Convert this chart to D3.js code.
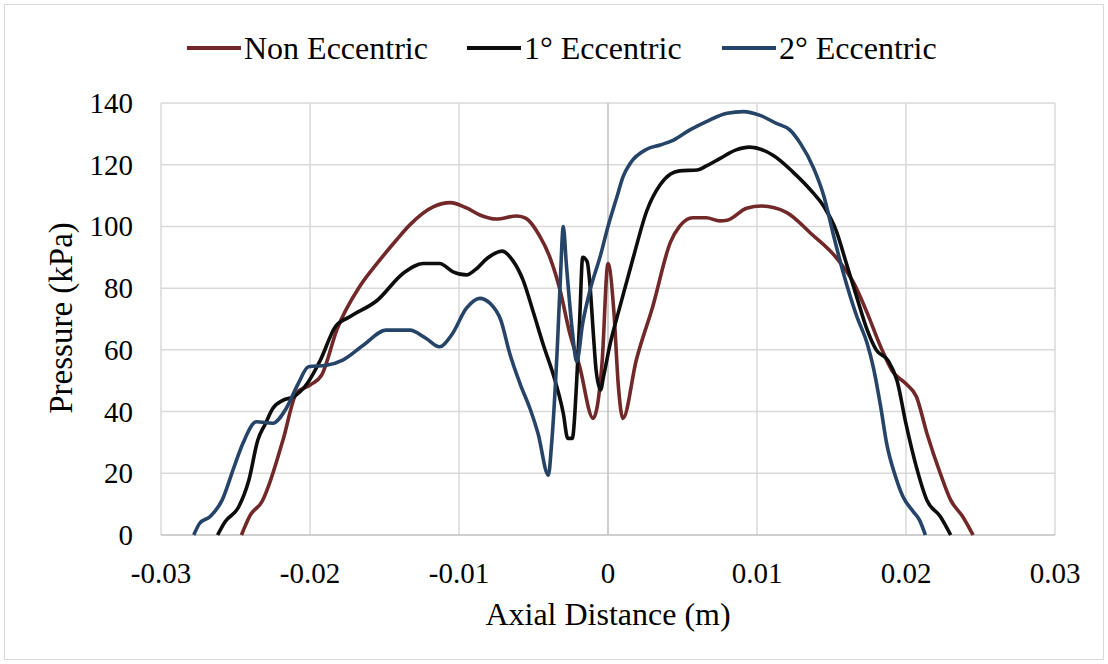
<!DOCTYPE html>
<html>
<head>
<meta charset="utf-8">
<script src="https://cdn.jsdelivr.net/npm/d3@7"></script>
<style>
  body { margin: 0; background: #fff; }
</style>
</head>
<body>
<div id="chart"></div>
<script>
// values: [axial distance (m), pressure (kPa)]
const nonEccentric = [
  [-0.0246,0],[-0.0240,6.5],[-0.0232,11],[-0.0227,17],[-0.0218,31],[-0.0209,46],[-0.0200,48.6],
  [-0.0192,52],[-0.0182,66.5],[-0.0166,81],[-0.0155,88],[-0.0142,95.6],[-0.0133,100.5],[-0.0117,106.4],
  [-0.0106,107.7],[-0.0095,106],[-0.0086,103.7],[-0.0075,102.4],[-0.0061,103.4],[-0.0055,102.6],
  [-0.0046,97],[-0.0039,90],[-0.0032,79],[-0.0026,66],[-0.0019,54.5],[-0.0010,37.8],[-0.0004,55.7],
  [0.0000,88],[0.0004,72],[0.0007,48],[0.0010,37.8],[0.0019,56.7],[0.0030,74],[0.0042,95],[0.0048,100],
  [0.0057,102.8],[0.0066,102.8],[0.0075,101.8],[0.0080,102],[0.0093,105.9],[0.0103,106.6],[0.0120,104.5],
  [0.0136,97.8],[0.0153,90],[0.0165,81.6],[0.0174,71.9],[0.0183,61],[0.0191,53],[0.0200,49],[0.0207,44.8],
  [0.0214,33],[0.0223,20],[0.0230,11.3],[0.0238,6],[0.0245,0]
];
const oneDegEccentric = [
  [-0.0262,0],[-0.0257,4.3],[-0.0248,9],[-0.0241,17.8],[-0.0235,30.8],[-0.0230,36],[-0.0225,41],
  [-0.0218,43.7],[-0.0211,44.8],[-0.0202,49],[-0.0193,56.7],[-0.0183,67.5],[-0.0173,70.8],[-0.0155,76],
  [-0.0137,85],[-0.0124,88],[-0.0113,88],[-0.0104,85.3],[-0.0095,84.3],[-0.0089,86],[-0.0081,89.7],
  [-0.0071,92],[-0.0064,89],[-0.0057,82.6],[-0.0050,72],[-0.0043,61],[-0.0037,52.4],[-0.0030,39.4],
  [-0.0027,31.3],[-0.0024,31.3],[-0.0021,50],[-0.0019,70],[-0.0017,90],[-0.0014,88.6],[-0.0012,80.5],
  [-0.0010,66.4],[-0.0008,53.5],[-0.0005,47],[-0.0003,51.3],[0.0001,61],[0.0008,74],[0.0017,90],
  [0.0026,105],[0.0035,113.5],[0.0042,117],[0.0048,118],[0.0060,118.3],[0.0066,119.6],[0.0075,122],
  [0.0086,124.8],[0.0095,125.7],[0.0111,123],[0.0124,117.7],[0.0138,110.7],[0.0145,106.4],[0.0153,98.8],
  [0.0160,88],[0.0167,77],[0.0174,66.4],[0.0180,60],[0.0188,56.5],[0.0194,50],[0.0200,36],[0.0207,22],
  [0.0214,11.3],[0.0223,6],[0.0230,0]
];
const twoDegEccentric = [
  [-0.0278,0],[-0.0274,3.8],[-0.0267,6],[-0.0259,11.3],[-0.0251,22],[-0.0245,29.7],[-0.0236,36.7],
  [-0.0225,36.2],[-0.0216,41],[-0.0208,49],[-0.0201,54.5],[-0.0189,55],[-0.0178,56.7],[-0.0164,61.6],
  [-0.0149,66.4],[-0.0133,66.4],[-0.0122,63.7],[-0.0113,61],[-0.0105,64.8],[-0.0095,73.5],[-0.0086,76.7],
  [-0.0079,75],[-0.0072,69.7],[-0.0066,58.9],[-0.0059,49],[-0.0052,40.5],[-0.0047,33],[-0.0040,19.4],
  [-0.0038,28.6],[-0.0034,61],[-0.0032,82.6],[-0.0030,100],[-0.0028,88],[-0.0024,66.4],[-0.0021,56.2],
  [-0.0017,68.6],[-0.0012,79.4],[-0.0005,90.7],[0.0000,100],[0.0006,109.6],[0.0010,116],[0.0015,120.5],
  [0.0026,125],[0.0035,126.4],[0.0044,128],[0.0055,131.3],[0.0066,134],[0.0080,136.7],[0.0091,137.2],
  [0.0102,136],[0.0113,133.4],[0.0122,131.3],[0.0129,127],[0.0138,118.9],[0.0145,109.6],[0.0151,97.8],
  [0.0158,84.8],[0.0167,70.8],[0.0174,62],[0.0178,54.5],[0.0183,41.6],[0.0187,29.7],[0.0193,18.9],
  [0.0198,12.4],[0.0205,7.5],[0.0209,4.9],[0.0213,0]
];

const seriesNames = ["Non Eccentric", "1\u00B0 Eccentric", "2\u00B0 Eccentric"];
const seriesColors = ["#722828", "#0d0d0d", "#264468"];
const xTicks = [-0.03, -0.02, -0.01, 0, 0.01, 0.02, 0.03];
const xTickLabels = ["-0.03", "-0.02", "-0.01", "0", "0.01", "0.02", "0.03"];
const yTicks = [0, 20, 40, 60, 80, 100, 120, 140];

const serif = "'Liberation Serif', 'Times New Roman', 'DejaVu Serif', serif";
const width = 1108, height = 664;
const svg = d3.select("#chart").append("svg")
  .attr("width", width).attr("height", height)
  .attr("font-family", serif);

// chart border
svg.append("rect")
  .attr("x", 4.5).attr("y", 4.5)
  .attr("width", width - 9).attr("height", height - 9)
  .attr("fill", "#fff").attr("stroke", "#d9d9d9").attr("stroke-width", 1);

const x = d3.scaleLinear().domain([-0.03, 0.03]).range([161, 1055]);
const y = d3.scaleLinear().domain([0, 140]).range([535, 103]);

// gridlines
svg.append("g").selectAll("line")
  .data(yTicks.filter(d => d !== 0))
  .enter().append("line")
  .attr("x1", x(-0.03)).attr("x2", x(0.03))
  .attr("y1", d => y(d)).attr("y2", d => y(d))
  .attr("stroke", "#d9d9d9").attr("stroke-width", 1.5);

svg.append("g").selectAll("line")
  .data(xTicks.filter(d => d !== 0))
  .enter().append("line")
  .attr("x1", d => x(d)).attr("x2", d => x(d))
  .attr("y1", y(0)).attr("y2", y(140))
  .attr("stroke", "#d9d9d9").attr("stroke-width", 1.5);

// axis lines (x axis at bottom, y axis crossing at 0)
svg.append("line")
  .attr("x1", x(-0.03)).attr("x2", x(0.03)).attr("y1", y(0)).attr("y2", y(0))
  .attr("stroke", "#bfbfbf").attr("stroke-width", 1.5);
svg.append("line")
  .attr("x1", x(0)).attr("x2", x(0)).attr("y1", y(0)).attr("y2", y(140))
  .attr("stroke", "#bfbfbf").attr("stroke-width", 1.5);

// tick labels
svg.append("g").selectAll("text")
  .data(xTicks)
  .enter().append("text")
  .attr("x", d => x(d)).attr("y", 583)
  .attr("text-anchor", "middle")
  .attr("font-family", serif)
  .style("font-size", "29px")
  .text((d, i) => xTickLabels[i]);

svg.append("g").selectAll("text")
  .data(yTicks)
  .enter().append("text")
  .attr("x", 133).attr("y", d => y(d) + 10)
  .attr("text-anchor", "end")
  .attr("font-family", serif)
  .style("font-size", "29px")
  .text(d => d);

// axis titles
svg.append("text")
  .attr("x", 608).attr("y", 625)
  .attr("text-anchor", "middle")
  .attr("font-family", serif)
  .style("font-size", "32px")
  .text("Axial Distance (m)");

svg.append("text")
  .attr("transform", "translate(72,318) rotate(-90)")
  .attr("text-anchor", "middle")
  .attr("font-family", serif)
  .style("font-size", "33px")
  .text("Pressure (kPa)");

// lines
const line = d3.line()
  .x(d => x(d[0]))
  .y(d => y(d[1]))
  .curve(d3.curveMonotoneX);

const allSeries = [nonEccentric, oneDegEccentric, twoDegEccentric];
svg.append("g").selectAll("path")
  .data(allSeries)
  .enter().append("path")
  .attr("d", line)
  .attr("fill", "none")
  .attr("stroke", (d, i) => seriesColors[i])
  .attr("stroke-width", 3.6)
  .attr("stroke-linejoin", "round");

// legend
const legendX = [187, 467, 722];
const legend = svg.append("g").selectAll("g")
  .data(seriesNames)
  .enter().append("g")
  .attr("transform", (d, i) => "translate(" + legendX[i] + ",48)");
legend.append("line")
  .attr("x1", 0).attr("x2", 54).attr("y1", 0).attr("y2", 0)
  .attr("stroke", (d, i) => seriesColors[i])
  .attr("stroke-width", 3.8);
legend.append("text")
  .attr("x", 57).attr("y", 11)
  .attr("font-family", serif)
  .style("font-size", "32px")
  .text(d => d);
</script>
</body>
</html>
